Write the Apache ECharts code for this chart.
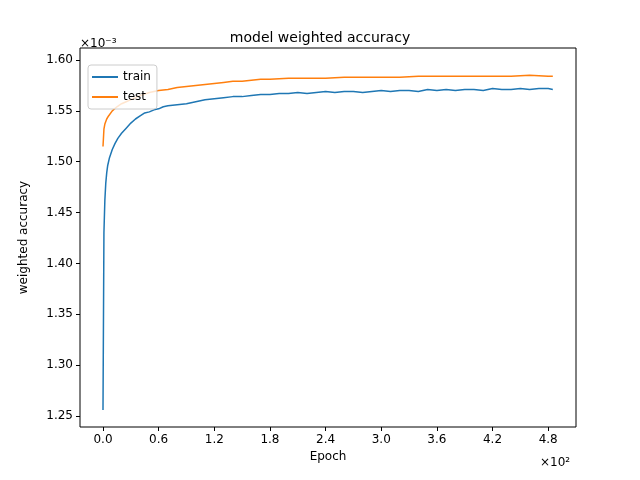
<!DOCTYPE html>
<html><head><meta charset="utf-8">
<script src="https://cdn.jsdelivr.net/npm/echarts@6/dist/echarts.min.js"></script>
<style>html,body{margin:0;padding:0;background:#fff}#c{width:640px;height:480px}</style>
</head><body><div id="c"></div>
<script>
// values in units of 1e-3; epochs
const trainEpochs=[0,1,2,3,4,5,7,10,13,16,20,25,30,35,40,45,50,55,60,65,70,80,90,100,110,120,130,140,150,160,170,180,190,200,210,220,230,240,250,260,270,280,290,300,310,320,330,340,350,360,370,380,390,400,410,420,430,440,450,460,470,480,485];
const trainVals=[1.256,1.43,1.462,1.479,1.489,1.496,1.504,1.512,1.518,1.523,1.528,1.533,1.538,1.542,1.545,1.548,1.549,1.551,1.552,1.554,1.555,1.556,1.557,1.559,1.561,1.562,1.563,1.564,1.564,1.565,1.566,1.566,1.567,1.567,1.568,1.567,1.568,1.569,1.568,1.569,1.569,1.568,1.569,1.570,1.569,1.570,1.570,1.569,1.571,1.570,1.571,1.570,1.571,1.571,1.570,1.572,1.571,1.571,1.572,1.571,1.572,1.572,1.571];
const testEpochs=[0,1,2,4,6,10,15,20,25,30,40,50,60,70,80,90,100,110,120,130,140,150,160,170,180,200,220,240,260,280,300,320,340,360,380,400,420,440,460,480,485];
const testVals=[1.515,1.532,1.537,1.542,1.545,1.550,1.554,1.557,1.559,1.561,1.565,1.568,1.570,1.571,1.573,1.574,1.575,1.576,1.577,1.578,1.579,1.579,1.580,1.581,1.581,1.582,1.582,1.582,1.583,1.583,1.583,1.583,1.584,1.584,1.584,1.584,1.584,1.584,1.585,1.584,1.584];
const xTicks=[0,60,120,180,240,300,360,420,480];
const yTicks=[1.25,1.30,1.35,1.40,1.45,1.50,1.55,1.60];
const pair=(xs,ys)=>xs.map((x,i)=>[x,ys[i]]);
const ch=echarts.init(document.getElementById('c'));
const font='DejaVu Sans';
ch.setOption({
 animation:false,
 textStyle:{fontFamily:font},
 title:{text:'model weighted accuracy',left:'center',top:26,textStyle:{fontSize:14,fontWeight:'normal',color:'#000',fontFamily:font}},
 grid:{left:80,right:64,top:48,bottom:53,show:true,borderColor:'#000',borderWidth:1,backgroundColor:'transparent'},
 legend:{orient:'vertical',left:88,top:65,itemWidth:26,itemHeight:2,itemGap:8,padding:[6,6,6,4],borderColor:'#ccc',borderWidth:1,borderRadius:3,backgroundColor:'rgba(255,255,255,0.8)',textStyle:{fontSize:12,color:'#000'},icon:'rect',data:['train','test']},
 xAxis:{type:'value',min:-24.8,max:510,name:'Epoch',nameLocation:'middle',nameGap:24,nameTextStyle:{fontSize:12,color:'#000'},
  splitLine:{show:false},axisLine:{show:false,onZero:false},
  axisTick:{show:true,inside:false,length:4,lineStyle:{color:'#000'},customValues:xTicks},
  axisLabel:{color:'#000',fontSize:12,margin:7,customValues:xTicks,formatter:v=>(v/100).toFixed(1)}},
 yAxis:{type:'value',min:1.2392,max:1.6118,name:'weighted accuracy',nameLocation:'middle',nameGap:50,nameTextStyle:{fontSize:12,color:'#000'},
  splitLine:{show:false},axisLine:{show:false,onZero:false},
  axisTick:{show:true,inside:false,length:4,lineStyle:{color:'#000'},customValues:yTicks},
  axisLabel:{color:'#000',fontSize:12,margin:7,customValues:yTicks,formatter:v=>v.toFixed(2)}},
 graphic:[
  {type:'text',left:80,top:38,style:{text:'×10⁻³',fontSize:12,fill:'#000',fontFamily:font}},
  {type:'text',left:540,top:457,style:{text:'×10²',fontSize:12,fill:'#000',fontFamily:font}}
 ],
 series:[
  {name:'train',type:'line',showSymbol:false,data:pair(trainEpochs,trainVals),lineStyle:{width:1.5,color:'#1f77b4'},itemStyle:{color:'#1f77b4'}},
  {name:'test',type:'line',showSymbol:false,data:pair(testEpochs,testVals),lineStyle:{width:1.5,color:'#ff7f0e'},itemStyle:{color:'#ff7f0e'}}
 ]
});
</script></body></html>
